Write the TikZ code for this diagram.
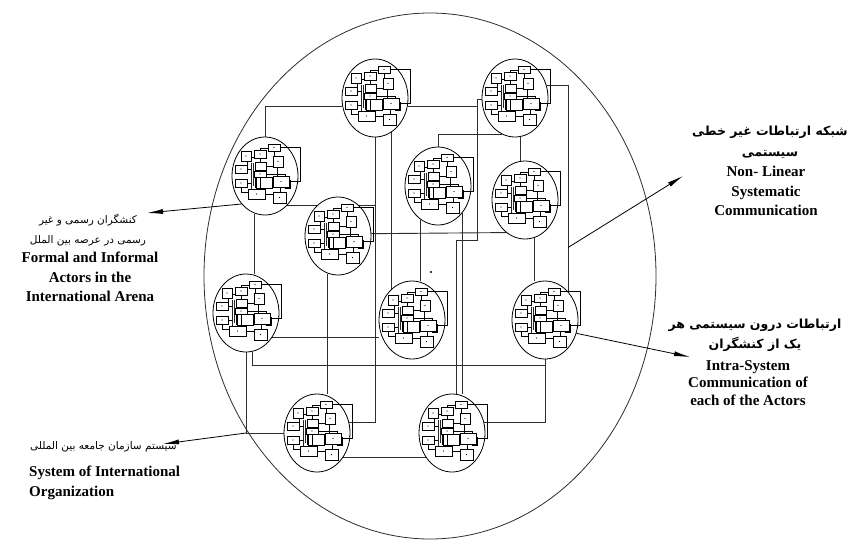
\documentclass[tikz,border=0pt]{standalone}
\usepackage{fontspec}
\setmainfont{Liberation Serif}
\newfontfamily\fafont[Script=Arabic]{DejaVu Sans}
\TeXXeTstate=1
\usepackage{tikz}
\usetikzlibrary{positioning,arrows.meta,shapes.geometric,calc,backgrounds}
\definecolor{lineGray}{RGB}{45,45,45}

\begin{document}
\begin{tikzpicture}[x=1pt,y=-1pt,
  arena/.style={draw=lineGray,ellipse,minimum width=452pt,minimum height=526pt,inner sep=0pt,line width=0.8pt},
  actor/.style={draw=black,fill=white,ellipse,minimum width=66pt,minimum height=78pt,inner sep=0pt,line width=0.8pt},
  link/.style={draw=lineGray,line width=0.9pt},
  sysbox/.style={draw=black,fill=white,line width=0.6pt},
  callout/.style={draw=black,line width=0.8pt,-{Latex[length=16pt,width=5pt]}},
  enlbl/.style={font=\bfseries\fontsize{15}{19.5}\selectfont,align=center,inner sep=0pt},
  falbl/.style={font=\fafont\fontsize{10.5}{20}\selectfont,align=center,inner sep=0pt},
  fabold/.style={font=\fafont\bfseries\fontsize{12.5}{21}\selectfont,align=center,inner sep=0pt},
  minisys/.pic={
    % feedback loop
    \draw[line width=0.6pt] (14,-29) -- (35,-29) -- (35,5) -- (23,5);
    % wiring
    \draw[line width=0.6pt] (-18,-15) -- (-18,-11) (-18,-7) -- (-13,-7) (-18,7) -- (-13,7)
      (-24,11) |- (-16,16) (-5,-18) -- (-5,-14) (9,-25) -- (9,-19) (12,-9) -- (12,0)
      (1,-10) -- (8,-10) (15,11) -- (15,16) (0,18) -- (8,18) (-5,1) -- (-5,13)
      (3,-28) -| (-5,-25) (-14,-19) -- (-11,-19) (1,-2) -| (20,0)
      (-10,-4) -- (-10,12) (23,4) -- (25,4) -- (25,12) -- (20,12);
    \draw[line width=0.8pt,black!85] (-14,-13) -- (-14,13) (-12,-13) -- (-12,10) (-14,13) -- (-6,13);
    \draw[line width=0.4pt] (-9,1) rectangle (7,12);
    % units
    \foreach \xa/\ya/\xb/\yb in {3/-32/15/-25,-24/-25/-14/-15,-11/-26/1/-18,8/-20/18/-9,
        -30/-11/-18/-3,-30/3/-18/11,-11/-5/1/1,8/0/24/11,-17/13/0/23,8/16/21/27}{
      \draw[sysbox] (\xa,\ya) rectangle (\xb,\yb);
      \fill ({(\xa+\xb)/2},{(\ya+\yb)/2}) circle (0.6);
    }
    \draw[sysbox,line width=0.9pt] (-10,-14) rectangle (1,-6);
  }]
\useasboundingbox (0,0) rectangle (848,539);
% --- arena ---
\node[arena] (arena) at (430,276) {};
% --- actors ---
\node[actor] (lu) at (265,176) {};
\node[actor] (tc) at (375,98) {};
\node[actor] (tr) at (515,98) {};
\node[actor] (cm) at (438,186) {};
\node[actor] (rm) at (525,200) {};
\node[actor] (ml) at (338,236) {};
\node[actor] (ll) at (246,313) {};
\node[actor] (cl) at (412,320) {};
\node[actor] (rl) at (545,320) {};
\node[actor] (bl) at (317,433) {};
\node[actor] (br) at (452,433) {};
\foreach \n in {lu,tc,tr,cm,rm,ml,ll,cl,rl,bl,br}
  \pic at (\n) {minisys};
\fill (431,272) circle (1.2);
% --- network links ---
\begin{scope}[on background layer]
\draw[link] (lu.north) |- (tc.195);
\draw[link] (tc.-15) -- ++(70,0);
\draw[link] (tr.183) -| (477,240) -| (br.84);
\draw[link] (tc.south) |- (bl.19);
\draw[link] (lu.-53) -- (lu.-53 -| tc.south);
\draw[link] (tc.-64) -- (tc.-64 |- cl.125);
\draw[link] (cm.north) |- (tr.-110);
\draw[link] (tr.-82) -- (tr.-82 |- rm.north);
\draw[link] (tr.21) -| (rl.51);
\draw[link] (rm.-76) -- (rm.-76 |- rl.north);
\draw[link] (ml.4) -- (rm.-120);
\draw[link] (cm.-117) -- (cm.-117 |- cl.north);
\draw[link] (cm.-48) -- (cm.-48 |- br.north);
\draw[link] (ml.-105) -- (ml.-105 |- bl.north);
\draw[link] (lu.-105) -- (lu.-105 |- ll.north);
\draw[link] (ll.-43) -- (ll.-43 -| cl.west);
\draw[link] (ll.-80) -- ++(0,14) -| (rl.south);
\draw[link] (br.19) -| (rl.south);
\draw[link] (ll.south) |- (bl.west);
\draw[link] (bl.-43) -- (br.-137);
\end{scope}
% --- labels ---
\node[falbl] (formalFa) at (88,230) {\beginR کنشگران رسمی و غیر\endR\\\beginR رسمی در عرصه بین الملل\endR};
\node[enlbl] (formalEn) at (90,277) {Formal and Informal\\Actors in the\\International Arena};
\node[fabold] (nonlinFa) at (770,142) {\beginR شبکه ارتباطات غیر خطی\endR\\\beginR سیستمی\endR};
\node[enlbl] (nonlinEn) at (766,191) {Non- Linear\\Systematic\\Communication};
\node[fabold,font=\fafont\bfseries\fontsize{12.5}{20}\selectfont] (intraFa) at (755,335) {\beginR ارتباطات درون سیستمی هر\endR\\\beginR یک از کنشگران\endR};
\node[enlbl,font=\bfseries\fontsize{15}{17.5}\selectfont] (intraEn) at (748,383) {Intra-System\\Communication of\\each of the Actors};
\node[falbl,anchor=west] (orgFa) at (30,447) {\beginR سیستم سازمان جامعه بین المللی\endR};
\node[enlbl,align=left,anchor=west] (orgEn) at (29,483) {System of International\\Organization};
% --- callouts ---
\coordinate (formalTip) at (147,213);
\coordinate (nonlinTip) at (683,176);
\coordinate (intraTip) at (690,357);
\coordinate (orgTip) at (163,444);
\coordinate (nonlinFoot) at ($(rl.51)+(0,-44)$);
\draw[callout] (lu.-130) -- (formalTip);
\draw[callout] (nonlinFoot) -- (nonlinTip);
\draw[callout] (rl.-23) -- (intraTip);
\draw[callout] (ll.south |- bl.west) -- (orgTip);
\end{tikzpicture}
\end{document}
